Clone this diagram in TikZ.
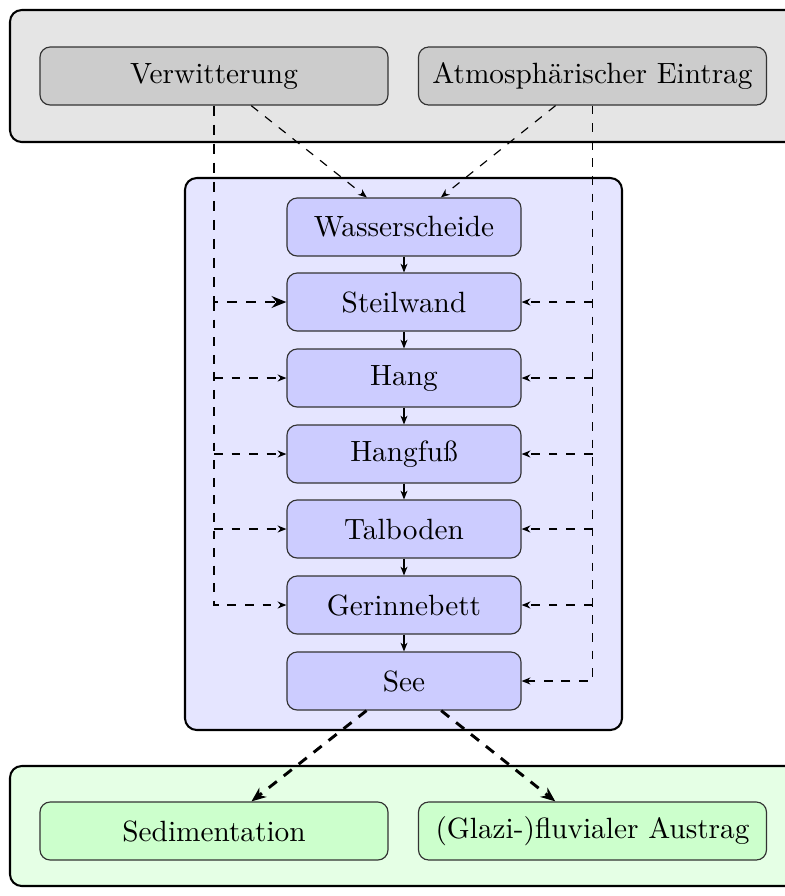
\documentclass[tikz,border=0pt]{standalone}
\usetikzlibrary{arrows.meta}
\begin{document}
\begin{tikzpicture}[x=0.3413pt,y=-0.3413pt,
  outerbox/.style={draw=black, line width=0.7pt, rounded corners=4pt},
  basebox/.style={draw=black!80, line width=0.4pt, rounded corners=3.5pt, inner sep=0pt, minimum height=19.8pt, font=\normalsize},
  widebox/.style={basebox, minimum width=118.8pt},
  bluebox/.style={basebox, fill=blue!20, minimum width=79.9pt},
  flow/.style={-{Stealth[length=3pt,width=2.4pt]}, line width=0.4pt},
  dashline/.style={dashed, line width=0.4pt},
  dasharrow/.style={dashed, line width=0.4pt, -{Stealth[length=3pt,width=2.4pt]}},
  thickdasharrow/.style={dash pattern=on 3.5pt off 3pt, line width=1pt, -{Stealth[length=5pt,width=4pt]}}
]
\useasboundingbox (0,0) rectangle (785,896);
\clip (0,0) rectangle (785,896);
% outer areas
\draw[outerbox, fill=black!10] (10,10) rectangle (820,142);
\draw[outerbox, fill=blue!10] (185,178) rectangle (622,730);
\draw[outerbox, fill=green!10] (10,766) rectangle (820,886);
% top nodes
\node[widebox, fill=black!20] (verw) at (214,76) {Verwitterung};
\node[widebox, fill=black!20] (atm) at (592.5,76) {Atmosphärischer Eintrag};
% chain
\node[bluebox] (wass) at (404,227) {Wasserscheide};
\node[bluebox] (stei) at (404,302) {Steilwand};
\node[bluebox] (hang) at (404,378) {Hang};
\node[bluebox] (hfus) at (404,454) {Hangfuß};
\node[bluebox] (talb) at (404,529) {Talboden};
\node[bluebox] (gerb) at (404,605) {Gerinnebett};
\node[bluebox] (see) at (404,681) {See};
% bottom nodes
\node[widebox, fill=green!20] (sed) at (214,831) {Sedimentation};
\node[widebox, fill=green!20] (aus) at (592.5,831) {(Glazi-)fluvialer Austrag};
% chain arrows
\draw[flow] (wass) -- (stei);
\draw[flow] (stei) -- (hang);
\draw[flow] (hang) -- (hfus);
\draw[flow] (hfus) -- (talb);
\draw[flow] (talb) -- (gerb);
\draw[flow] (gerb) -- (see);
% inputs to watershed
\draw[dasharrow] (verw) -- (wass);
\draw[dasharrow] (atm) -- (wass);
% Verwitterung feed
\draw[dasharrow] (verw.south |- stei.west) |- (gerb.west);
\draw[dasharrow] (verw.south |- hang.west) -- (hang.west);
\draw[dasharrow] (verw.south |- hfus.west) -- (hfus.west);
\draw[dasharrow] (verw.south |- talb.west) -- (talb.west);
\draw[thickdasharrow] (verw.south) |- (stei.west);
% atmospheric feed
\draw[dasharrow] (atm.south) |- (see.east);
\draw[dasharrow] (atm.south |- stei.east) -- (stei.east);
\draw[dasharrow] (atm.south |- hang.east) -- (hang.east);
\draw[dasharrow] (atm.south |- hfus.east) -- (hfus.east);
\draw[dasharrow] (atm.south |- talb.east) -- (talb.east);
\draw[dasharrow] (atm.south |- gerb.east) -- (gerb.east);
% outputs
\draw[thickdasharrow] (see) -- (sed);
\draw[thickdasharrow] (see) -- (aus);
\end{tikzpicture}
\end{document}
